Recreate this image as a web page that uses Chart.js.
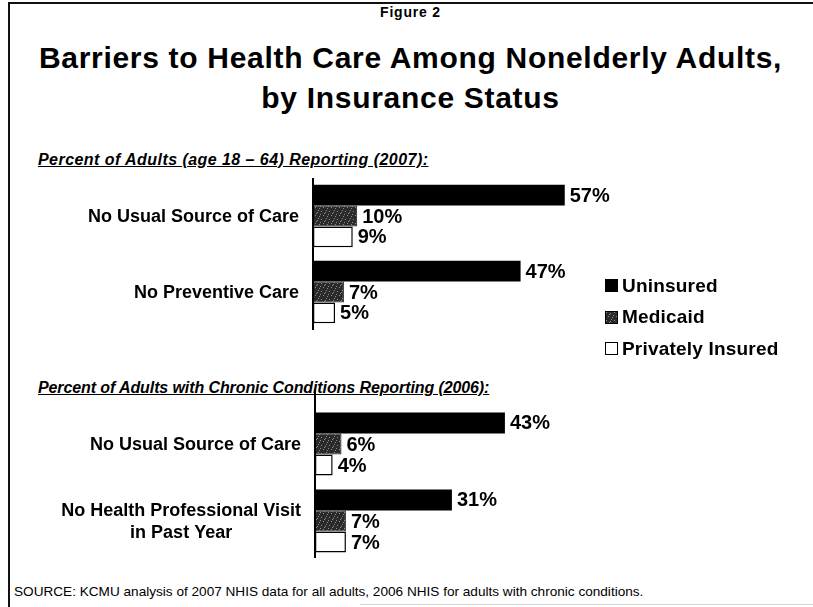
<!DOCTYPE html>
<html>
<head>
<meta charset="utf-8">
<title>Barriers to Health Care Among Nonelderly Adults</title>
<script src="https://cdn.jsdelivr.net/npm/chart.js@4.4.1/dist/chart.umd.min.js"></script>
<style>
    body { margin: 0; background: #fff; }
    #page { position: relative; width: 813px; height: 607px; overflow: hidden; font-family: "Liberation Sans", Arial, sans-serif; color: #000; }
    .frame { position: absolute; left: 8px; top: 2px; width: 900px; height: 700px; border-left: 2px solid #111; border-top: 2px solid #111; }
    .rule { position: absolute; left: 360px; top: 604px; width: 460px; height: 1px; background: #d4d4d4; }
    #fig { position: absolute; top: 4px; left: 4px; width: 813px; text-align: center; font-weight: bold; font-size: 14px; letter-spacing: 0.8px; }
    #title { position: absolute; top: 38px; left: 4px; width: 813px; text-align: center; font-weight: bold; font-size: 30px; line-height: 40px; letter-spacing: 0.7px; }
    .sub { position: absolute; left: 38px; font-weight: bold; font-style: italic; text-decoration: underline; font-size: 16px; white-space: nowrap; }
    #legend { position: absolute; left: 605px; top: 270px; }
    .item { display: flex; align-items: center; height: 31.5px; font-weight: bold; font-size: 19px; white-space: nowrap; letter-spacing: 0.2px; }
    .item canvas { margin-right: 4px; }
    #source { position: absolute; left: 14px; top: 584px; font-size: 13.6px; white-space: nowrap; }
    canvas.chart { position: absolute; left: 0; }
</style>
</head>
<body>
<div id="page">
    <div class="frame"></div>
    <div class="rule"></div>
    <div id="fig">Figure 2</div>
    <div id="title">Barriers to Health Care Among Nonelderly Adults,<br>by Insurance Status</div>
    <div class="sub" style="top:151px; letter-spacing:0.45px">Percent of Adults (age 18 – 64) Reporting (2007):</div>
    <div class="sub" style="top:379px; letter-spacing:-0.1px">Percent of Adults with Chronic Conditions Reporting (2006):</div>
    <canvas id="allAdults" class="chart" style="top:170px" width="813" height="170"></canvas>
    <canvas id="chronic" class="chart" style="top:380px" width="813" height="190"></canvas>
    <div id="legend"></div>
    <div id="source">SOURCE: KCMU analysis of 2007 NHIS data for all adults, 2006 NHIS for adults with chronic conditions.</div>
</div>
<script>
// Series and values
const seriesNames = ['Uninsured', 'Medicaid', 'Privately Insured'];

const allAdultsCats = ['No Usual Source of Care', 'No Preventive Care'];
const allAdultsUninsured = [57, 47];
const allAdultsMedicaid = [10, 7];
const allAdultsPrivate = [9, 5];

const chronicCats = ['No Usual Source of Care', ['No Health Professional Visit', 'in Past Year']];
const chronicUninsured = [43, 31];
const chronicMedicaid = [6, 7];
const chronicPrivate = [4, 7];

const FONT = '"Liberation Sans", Arial, sans-serif';

// dark speckled fill used for the Medicaid bars
function speckle(ctx) {
    const c = document.createElement('canvas');
    c.width = 8; c.height = 8;
    const g = c.getContext('2d');
    g.fillStyle = '#2a2a2a';
    g.fillRect(0, 0, 8, 8);
    g.fillStyle = '#8c8c8c';
    [[1, 1], [5, 2], [3, 5], [7, 6], [0, 4], [6, 0], [4, 3]].forEach(([x, y]) => g.fillRect(x, y, 1, 1));
    return ctx.createPattern(c, 'repeat');
}

function barStyles(ctx) {
    return [
        { backgroundColor: '#000', borderColor: '#000', borderWidth: 0 },
        { backgroundColor: speckle(ctx), borderColor: '#222', borderWidth: 1 },
        { backgroundColor: '#fff', borderColor: '#000', borderWidth: 1.5 }
    ];
}

// percent labels at the end of each bar
const valueLabels = {
    id: 'valueLabels',
    afterDatasetsDraw(chart) {
        const { ctx } = chart;
        ctx.save();
        ctx.font = 'bold 20px ' + FONT;
        ctx.fillStyle = '#000';
        ctx.textBaseline = 'middle';
        ctx.textAlign = 'left';
        chart.data.datasets.forEach((ds, i) => {
            chart.getDatasetMeta(i).data.forEach((bar, j) => {
                ctx.fillText(ds.data[j] + '%', bar.x + 5, bar.y + 1);
            });
        });
        ctx.restore();
    }
};

// category names, right-aligned block with centred lines
const categoryLabels = {
    id: 'categoryLabels',
    afterDraw(chart) {
        const { ctx, chartArea } = chart;
        const yScale = chart.scales.y;
        ctx.save();
        ctx.font = 'bold 18px ' + FONT;
        ctx.fillStyle = '#000';
        ctx.textBaseline = 'middle';
        ctx.textAlign = 'center';
        chart.data.labels.forEach((label, i) => {
            const lines = [].concat(label);
            const w = Math.max(...lines.map(l => ctx.measureText(l).width));
            const cx = chartArea.left - 14 - w / 2;
            const lh = 22;
            const y0 = yScale.getPixelForValue(i) - (lines.length - 1) * lh / 2 + 1;
            lines.forEach((l, k) => ctx.fillText(l, cx, y0 + k * lh));
        });
        ctx.restore();
    }
};

// vertical axis line, may run past the bar area
const axisLine = {
    id: 'axisLine',
    afterDraw(chart, args, opts) {
        const { ctx, chartArea } = chart;
        ctx.save();
        ctx.strokeStyle = '#000';
        ctx.lineWidth = 2;
        ctx.beginPath();
        ctx.moveTo(chartArea.left, chartArea.top - (opts.extTop || 0));
        ctx.lineTo(chartArea.left, chartArea.bottom + (opts.extBottom || 0));
        ctx.stroke();
        ctx.restore();
    }
};

function makeChart(id, cats, uninsured, medicaid, priv, axisX, pad, ext) {
    const canvas = document.getElementById(id);
    const styles = barStyles(canvas.getContext('2d'));
    const values = [uninsured, medicaid, priv];
    return new Chart(canvas, {
        type: 'bar',
        data: {
            labels: cats,
            datasets: seriesNames.map((name, i) => Object.assign({
                label: name,
                data: values[i],
                borderSkipped: false,
                categoryPercentage: 0.82,
                barPercentage: 1.0
            }, styles[i]))
        },
        options: {
            indexAxis: 'y',
            responsive: false,
            animation: false,
            layout: { padding: { top: pad.top, bottom: pad.bottom, left: 0, right: 813 - axisX - 265 } },
            scales: {
                x: { display: false, min: 0, max: 60 },
                y: {
                    grid: { display: false, drawTicks: false },
                    border: { display: false },
                    ticks: { display: false },
                    afterFit: s => { s.width = axisX; }
                }
            },
            plugins: {
                legend: { display: false },
                tooltip: { enabled: false },
                axisLine: ext
            }
        },
        plugins: [valueLabels, categoryLabels, axisLine]
    });
}

makeChart('allAdults', allAdultsCats, allAdultsUninsured, allAdultsMedicaid, allAdultsPrivate,
    313, { top: 8, bottom: 10 }, { extTop: 0, extBottom: 0 });
makeChart('chronic', chronicCats, chronicUninsured, chronicMedicaid, chronicPrivate,
    315, { top: 25.5, bottom: 10.5 }, { extTop: 15.5, extBottom: -1.5 });

// legend built from the series
const legend = document.getElementById('legend');
const legendStyles = barStyles(document.createElement('canvas').getContext('2d'));
seriesNames.forEach((name, i) => {
    const row = document.createElement('div');
    row.className = 'item';
    const sw = document.createElement('canvas');
    sw.width = 13; sw.height = 13;
    const g = sw.getContext('2d');
    g.fillStyle = i === 1 ? speckle(g) : legendStyles[i].backgroundColor;
    g.fillRect(0.5, 0.5, 12, 12);
    g.strokeStyle = '#000';
    g.lineWidth = 1;
    g.strokeRect(0.5, 0.5, 12, 12);
    row.appendChild(sw);
    row.appendChild(document.createTextNode(name));
    legend.appendChild(row);
});
</script>
</body>
</html>
